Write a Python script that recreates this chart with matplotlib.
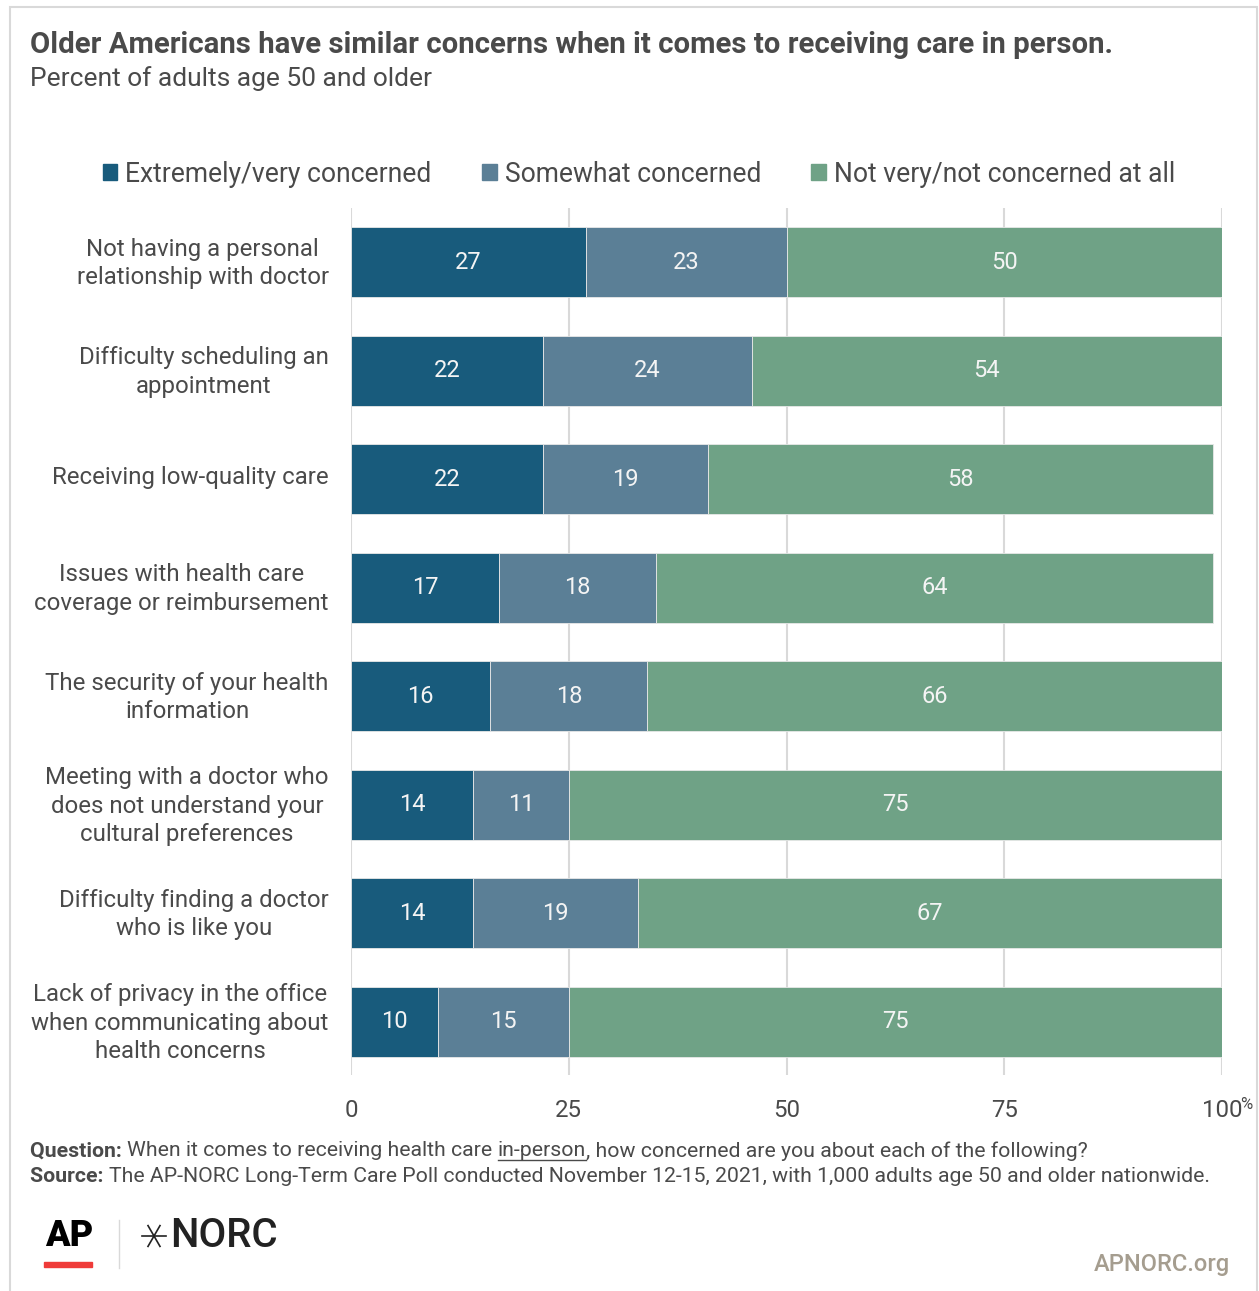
import numpy as np
import matplotlib.pyplot as plt
import matplotlib.patches as mpatches
import matplotlib.transforms as mtransforms
from matplotlib.lines import Line2D

# Data
categories = [
    'Not having a personal\nrelationship with doctor',
    'Difficulty scheduling an\nappointment',
    'Receiving low-quality care',
    'Issues with health care\ncoverage or reimbursement',
    'The security of your health\ninformation',
    'Meeting with a doctor who\ndoes not understand your\ncultural preferences',
    'Difficulty finding a doctor\nwho is like you',
    'Lack of privacy in the office\nwhen communicating about\nhealth concerns',
]
extremely = [27, 22, 22, 17, 16, 14, 14, 10]
somewhat = [23, 24, 19, 18, 18, 11, 19, 15]
not_concerned = [50, 54, 58, 64, 66, 75, 67, 75]
series_names = ['Extremely/very concerned', 'Somewhat concerned', 'Not very/not concerned at all']
x_ticks = [0, 25, 50, 75, 100]

colors = ['#185B7C', '#5B7F96', '#6FA286']
text_col = '#4a4a4a'

plt.rcParams['font.family'] = ['Roboto', 'DejaVu Sans']

W, H = 1259, 1291
fig = plt.figure(figsize=(W / 100, H / 100), dpi=100)

# outer frame
fig.patches.append(mpatches.Rectangle((10 / W, -0.01), 1247 / W, 1 - 7 / H + 0.01,
                                      transform=fig.transFigure, fill=False,
                                      edgecolor='#d9d9d9', linewidth=1.5))

ax = fig.add_axes([351 / W, 1 - 1075 / H, 871 / W, 867 / H])

ypos = list(range(len(categories)))
left = [0] * len(categories)
for vals, col in zip([extremely, somewhat, not_concerned], colors):
    bars = ax.barh(ypos, vals, left=left, height=0.645, color=col,
                   edgecolor='#e8e8e8', linewidth=0.6, zorder=3)
    for b, v in zip(bars, vals):
        ax.text(b.get_x() + b.get_width() / 2, b.get_y() + b.get_height() / 2, str(v),
                ha='center', va='center', color='#f4f4f4', fontsize=17, zorder=4)
    left = [l + v for l, v in zip(left, vals)]

ax.set_xlim(0, 100)
ax.set_ylim(7.49, -0.5)
ax.set_xticks(x_ticks)
ax.set_xticklabels([str(t) for t in x_ticks])
ax.set_yticks(ypos)
ax.set_yticklabels(categories)
ax.tick_params(axis='both', length=0, labelsize=17.3, labelcolor=text_col)
ax.tick_params(axis='y', pad=16)
ax.tick_params(axis='x', pad=17)
# nudge category labels up a few pixels
shift = mtransforms.ScaledTranslation(0, 0.04, fig.dpi_scale_trans)
for t in ax.get_yticklabels():
    t.set_multialignment('center')
    t.set_linespacing(1.3)
    t.set_transform(t.get_transform() + shift)
ax.grid(axis='x', color='#d9d9d9', linewidth=1.5, zorder=0)
for s in ax.spines.values():
    s.set_visible(False)
ax.annotate('%', xy=(100, 0), xycoords=('data', 'axes fraction'), xytext=(13, -16),
            textcoords='offset points', fontsize=12, color=text_col, va='top', ha='left')

# title
fig.text(30 / W, 1 - 45 / H, 'Older Americans have similar concerns when it comes to receiving care in person.',
         fontsize=21.2, fontweight='bold', color=text_col, va='center', ha='left')
fig.text(30 / W, 1 - 79 / H, 'Percent of adults age 50 and older',
         fontsize=19, color=text_col, va='center', ha='left')

# legend
handles = [mpatches.Patch(color=c, label=n) for c, n in zip(colors, series_names)]
leg = fig.legend(handles=handles, loc='center', bbox_to_anchor=(639 / W, 1 - 174 / H), ncol=3,
                 frameon=False, fontsize=19.1, handlelength=0.55, handleheight=0.55,
                 handletextpad=0.3, columnspacing=1.9, labelcolor=text_col)

# footnotes with mixed weights
fig.canvas.draw()
renderer = fig.canvas.get_renderer()


def rich_line(x_px, y_px, parts):
    x = x_px / W
    for txt, weight, underline in parts:
        t = fig.text(x, 1 - y_px / H, txt, fontsize=15.3, fontweight=weight, color=text_col,
                     va='center', ha='left')
        bb = t.get_window_extent(renderer)
        if underline:
            fig.add_artist(Line2D([bb.x0 / W, bb.x1 / W], [(bb.y0 + 1) / H, (bb.y0 + 1) / H],
                                  color=text_col, linewidth=1))
        x = bb.x1 / W


rich_line(30, 1151, [('Question: ', 'bold', False),
                     ('When it comes to receiving health care ', 'normal', False),
                     ('in-person', 'normal', True),
                     (', how concerned are you about each of the following?', 'normal', False)])
rich_line(30, 1177, [('Source: ', 'bold', False),
                     ('The AP-NORC Long-Term Care Poll conducted November 12-15, 2021, with 1,000 adults age 50 and older nationwide.',
                      'normal', False)])

# logos
fig.text(45 / W, 1 - 1236 / H, 'AP', fontsize=26, fontweight='black', color='black', va='center', ha='left')
fig.patches.append(mpatches.Rectangle((44 / W, 1 - 1267 / H), 48 / W, 5 / H,
                                      transform=fig.transFigure, color='#ef3b39'))
fig.add_artist(Line2D([119 / W, 119 / W], [1 - 1268 / H, 1 - 1220 / H], color='#d9d9d9', linewidth=1))
# thin six-spoke star of the NORC logo
cx, cy, r = 154, 1236, 12
for ang in (0, 60, 120):
    a = np.deg2rad(ang)
    fig.add_artist(Line2D([(cx - r * np.cos(a)) / W, (cx + r * np.cos(a)) / W],
                          [1 - (cy - r * np.sin(a)) / H, 1 - (cy + r * np.sin(a)) / H],
                          color='#222222', linewidth=1.2))
fig.text(170 / W, 1 - 1236 / H, 'NORC', fontsize=29, fontweight='medium', color='#222222',
         va='center', ha='left')
fig.text(1230 / W, 1 - 1265 / H, 'APNORC.org', fontsize=17, fontweight='medium', color='#a59d8f',
         va='center', ha='right')

fig.savefig('out.png', dpi=100)
